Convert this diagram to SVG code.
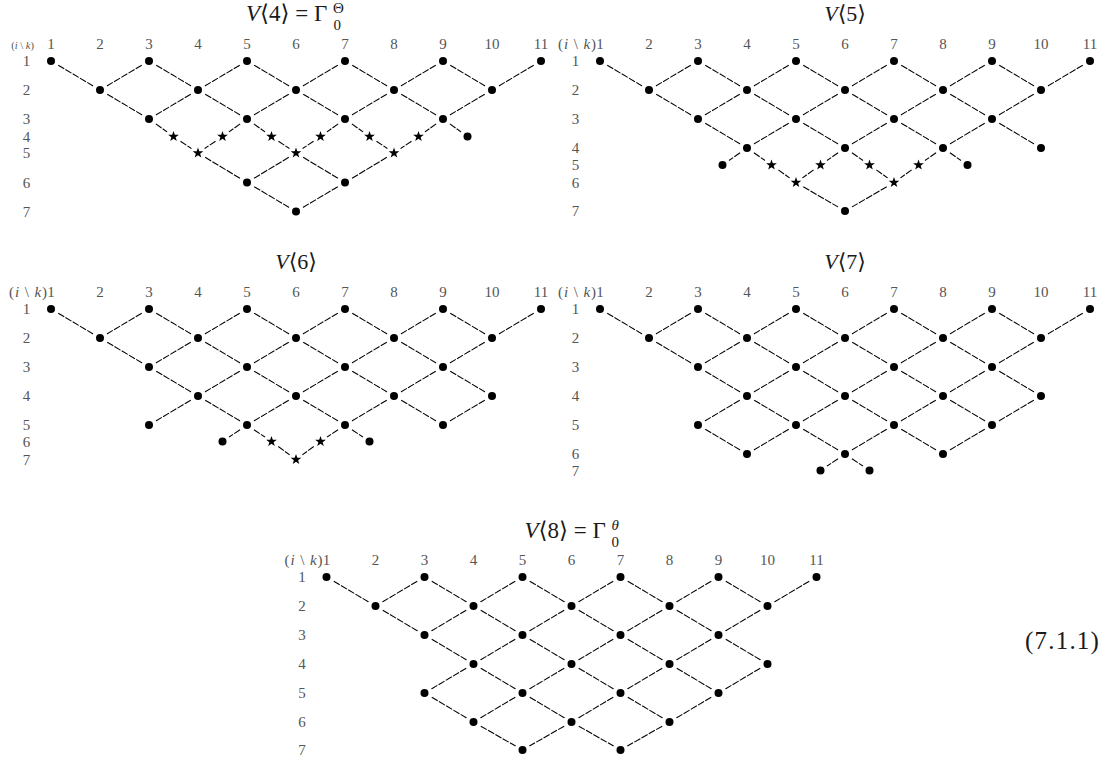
<svg xmlns="http://www.w3.org/2000/svg" width="1107" height="763" viewBox="0 0 1107 763">
<style>
text{font-family:"Liberation Serif","DejaVu Serif",serif}
.t{font-size:22px;fill:#1a1a1a}
.tb{font-size:23px;fill:#1a1a1a}
.n{font-size:15px;fill:#555;text-anchor:middle}
.h{font-size:15px;fill:#555;text-anchor:end}
.hs{font-size:10.5px;fill:#555;text-anchor:end}
.conn{stroke:#000;stroke-width:1.1;stroke-dasharray:7 1.4;fill:none}
</style>
<defs>
<g id="D"><circle r="8" fill="#fff"/><circle r="4" fill="#000"/></g>
<g id="S"><circle r="8" fill="#fff"/><path d="M0,-5.6L1.31,-1.8L5.33,-1.73L2.13,0.69L3.29,4.53L0,2.24L-3.29,4.53L-2.13,0.69L-5.33,-1.73L-1.31,-1.8Z" fill="#000"/></g>
<g id="E13">
<line x1="0" y1="0" x2="49" y2="29"/><line x1="98" y1="0" x2="49" y2="29"/><line x1="98" y1="0" x2="147" y2="29"/><line x1="196" y1="0" x2="147" y2="29"/><line x1="196" y1="0" x2="245" y2="29"/><line x1="294" y1="0" x2="245" y2="29"/><line x1="294" y1="0" x2="343" y2="29"/><line x1="392" y1="0" x2="343" y2="29"/><line x1="392" y1="0" x2="441" y2="29"/><line x1="490" y1="0" x2="441" y2="29"/>
<line x1="49" y1="29" x2="98" y2="58"/><line x1="147" y1="29" x2="98" y2="58"/><line x1="147" y1="29" x2="196" y2="58"/><line x1="245" y1="29" x2="196" y2="58"/><line x1="245" y1="29" x2="294" y2="58"/><line x1="343" y1="29" x2="294" y2="58"/><line x1="343" y1="29" x2="392" y2="58"/><line x1="441" y1="29" x2="392" y2="58"/>
</g>
<g id="E34">
<line x1="98" y1="58" x2="147" y2="87"/><line x1="196" y1="58" x2="147" y2="87"/><line x1="196" y1="58" x2="245" y2="87"/><line x1="294" y1="58" x2="245" y2="87"/><line x1="294" y1="58" x2="343" y2="87"/><line x1="392" y1="58" x2="343" y2="87"/><line x1="392" y1="58" x2="441" y2="87"/>
</g>
<g id="E45">
<line x1="147" y1="87" x2="98" y2="116"/><line x1="147" y1="87" x2="196" y2="116"/><line x1="245" y1="87" x2="196" y2="116"/><line x1="245" y1="87" x2="294" y2="116"/><line x1="343" y1="87" x2="294" y2="116"/><line x1="343" y1="87" x2="392" y2="116"/><line x1="441" y1="87" x2="392" y2="116"/>
</g>
<g id="E56">
<line x1="98" y1="116" x2="147" y2="145"/><line x1="196" y1="116" x2="147" y2="145"/><line x1="196" y1="116" x2="245" y2="145"/><line x1="294" y1="116" x2="245" y2="145"/><line x1="294" y1="116" x2="343" y2="145"/><line x1="392" y1="116" x2="343" y2="145"/>
</g>
</defs>
<rect width="1107" height="763" fill="#fff"/>

<g id="connectors" class="conn">
<g id="conn-v4" transform="translate(51,61)">
<use href="#E13"/>
<line x1="98" y1="58" x2="122.5" y2="75.5"/><line x1="196" y1="58" x2="171.5" y2="75.5"/><line x1="196" y1="58" x2="220.5" y2="75.5"/><line x1="294" y1="58" x2="269.5" y2="75.5"/><line x1="294" y1="58" x2="318.5" y2="75.5"/><line x1="392" y1="58" x2="367.5" y2="75.5"/><line x1="392" y1="58" x2="416.5" y2="75.5"/>
<line x1="122.5" y1="75.5" x2="147" y2="92"/><line x1="171.5" y1="75.5" x2="147" y2="92"/><line x1="220.5" y1="75.5" x2="245" y2="92"/><line x1="269.5" y1="75.5" x2="245" y2="92"/><line x1="318.5" y1="75.5" x2="343" y2="92"/><line x1="367.5" y1="75.5" x2="343" y2="92"/>
<line x1="147" y1="92" x2="196" y2="121.5"/><line x1="245" y1="92" x2="196" y2="121.5"/><line x1="245" y1="92" x2="294" y2="121.5"/><line x1="343" y1="92" x2="294" y2="121.5"/>
<line x1="196" y1="121.5" x2="245" y2="150.5"/><line x1="294" y1="121.5" x2="245" y2="150.5"/>
</g>
<g id="conn-v5" transform="translate(600,61)">
<use href="#E13"/><use href="#E34"/>
<line x1="147" y1="87" x2="122.5" y2="104"/><line x1="147" y1="87" x2="171.5" y2="104"/><line x1="245" y1="87" x2="220.5" y2="104"/><line x1="245" y1="87" x2="269.5" y2="104"/><line x1="343" y1="87" x2="318.5" y2="104"/><line x1="343" y1="87" x2="367.5" y2="104"/>
<line x1="171.5" y1="104" x2="196" y2="121.5"/><line x1="220.5" y1="104" x2="196" y2="121.5"/><line x1="269.5" y1="104" x2="294" y2="121.5"/><line x1="318.5" y1="104" x2="294" y2="121.5"/>
<line x1="196" y1="121.5" x2="245" y2="150"/><line x1="294" y1="121.5" x2="245" y2="150"/>
</g>
<g id="conn-v6" transform="translate(51,309)">
<use href="#E13"/><use href="#E34"/><use href="#E45"/>
<line x1="196" y1="116" x2="171.5" y2="132.5"/><line x1="196" y1="116" x2="220.5" y2="132.5"/><line x1="294" y1="116" x2="269.5" y2="132.5"/><line x1="294" y1="116" x2="318.5" y2="132.5"/>
<line x1="220.5" y1="132.5" x2="245" y2="150.5"/><line x1="269.5" y1="132.5" x2="245" y2="150.5"/>
</g>
<g id="conn-v7" transform="translate(600,309)">
<use href="#E13"/><use href="#E34"/><use href="#E45"/><use href="#E56"/>
<line x1="245" y1="145" x2="220.5" y2="161.5"/><line x1="245" y1="145" x2="269.5" y2="161.5"/>
</g>
<g id="conn-v8" transform="translate(326.5,577)">
<use href="#E13"/><use href="#E34"/><use href="#E45"/><use href="#E56"/>
<line x1="147" y1="145" x2="196" y2="173"/><line x1="245" y1="145" x2="196" y2="173"/><line x1="245" y1="145" x2="294" y2="173"/><line x1="343" y1="145" x2="294" y2="173"/>
</g>
</g>

<!-- Panel V<4> -->
<g id="panel-v4" transform="translate(51,61)">
<text class="tb" y="-40"><tspan x="195" font-style="italic">V</tspan>⟨4⟩ = Γ<tspan x="282" y="-48" font-size="15">Θ</tspan><tspan x="282.5" y="-31" font-size="15">0</tspan></text>
<text class="hs" x="-17" y="-12.5">(<tspan font-style="italic">i</tspan> \ <tspan font-style="italic">k</tspan>)</text>
<text class="n"><tspan x="0" y="-12">1</tspan><tspan x="49" y="-12">2</tspan><tspan x="98" y="-12">3</tspan><tspan x="147" y="-12">4</tspan><tspan x="196" y="-12">5</tspan><tspan x="245" y="-12">6</tspan><tspan x="294" y="-12">7</tspan><tspan x="343" y="-12">8</tspan><tspan x="392" y="-12">9</tspan><tspan x="441" y="-12">10</tspan><tspan x="490" y="-12">11</tspan></text>
<text class="n"><tspan x="-24.5" y="5">1</tspan><tspan x="-24.5" y="34">2</tspan><tspan x="-24.5" y="63">3</tspan><tspan x="-24.5" y="80.5">4</tspan><tspan x="-24.5" y="97">5</tspan><tspan x="-24.5" y="126.5">6</tspan><tspan x="-24.5" y="155.5">7</tspan></text>
<g id="v4-1-1"><use href="#D" x="0" y="0"/></g>
<g id="v4-1-3"><use href="#D" x="98" y="0"/></g>
<g id="v4-1-5"><use href="#D" x="196" y="0"/></g>
<g id="v4-1-7"><use href="#D" x="294" y="0"/></g>
<g id="v4-1-9"><use href="#D" x="392" y="0"/></g>
<g id="v4-1-11"><use href="#D" x="490" y="0"/></g>
<g id="v4-2-2"><use href="#D" x="49" y="29"/></g>
<g id="v4-2-4"><use href="#D" x="147" y="29"/></g>
<g id="v4-2-6"><use href="#D" x="245" y="29"/></g>
<g id="v4-2-8"><use href="#D" x="343" y="29"/></g>
<g id="v4-2-10"><use href="#D" x="441" y="29"/></g>
<g id="v4-3-3"><use href="#D" x="98" y="58"/></g>
<g id="v4-3-5"><use href="#D" x="196" y="58"/></g>
<g id="v4-3-7"><use href="#D" x="294" y="58"/></g>
<g id="v4-3-9"><use href="#D" x="392" y="58"/></g>
<g id="v4-4-3.5"><use href="#S" x="122.5" y="75.5"/></g>
<g id="v4-4-4.5"><use href="#S" x="171.5" y="75.5"/></g>
<g id="v4-4-5.5"><use href="#S" x="220.5" y="75.5"/></g>
<g id="v4-4-6.5"><use href="#S" x="269.5" y="75.5"/></g>
<g id="v4-4-7.5"><use href="#S" x="318.5" y="75.5"/></g>
<g id="v4-4-8.5"><use href="#S" x="367.5" y="75.5"/></g>
<g id="v4-4-9.5"><use href="#D" x="416.5" y="75.5"/></g>
<g id="v4-5-4"><use href="#S" x="147" y="92"/></g>
<g id="v4-5-6"><use href="#S" x="245" y="92"/></g>
<g id="v4-5-8"><use href="#S" x="343" y="92"/></g>
<g id="v4-6-5"><use href="#D" x="196" y="121.5"/></g>
<g id="v4-6-7"><use href="#D" x="294" y="121.5"/></g>
<g id="v4-7-6"><use href="#D" x="245" y="150.5"/></g>
</g>

<!-- Panel V<5> -->
<g id="panel-v5" transform="translate(600,61)">
<text class="t" x="245" y="-40" text-anchor="middle"><tspan font-style="italic">V</tspan>⟨5⟩</text>
<text class="h" x="-4" y="-12" textLength="38" lengthAdjust="spacing">(<tspan font-style="italic">i</tspan> \ <tspan font-style="italic">k</tspan>)</text>
<text class="n"><tspan x="0" y="-12">1</tspan><tspan x="49" y="-12">2</tspan><tspan x="98" y="-12">3</tspan><tspan x="147" y="-12">4</tspan><tspan x="196" y="-12">5</tspan><tspan x="245" y="-12">6</tspan><tspan x="294" y="-12">7</tspan><tspan x="343" y="-12">8</tspan><tspan x="392" y="-12">9</tspan><tspan x="441" y="-12">10</tspan><tspan x="490" y="-12">11</tspan></text>
<text class="n"><tspan x="-24.5" y="5">1</tspan><tspan x="-24.5" y="34">2</tspan><tspan x="-24.5" y="63">3</tspan><tspan x="-24.5" y="92">4</tspan><tspan x="-24.5" y="109">5</tspan><tspan x="-24.5" y="126.5">6</tspan><tspan x="-24.5" y="155">7</tspan></text>
<g id="v5-1-1"><use href="#D" x="0" y="0"/></g>
<g id="v5-1-3"><use href="#D" x="98" y="0"/></g>
<g id="v5-1-5"><use href="#D" x="196" y="0"/></g>
<g id="v5-1-7"><use href="#D" x="294" y="0"/></g>
<g id="v5-1-9"><use href="#D" x="392" y="0"/></g>
<g id="v5-1-11"><use href="#D" x="490" y="0"/></g>
<g id="v5-2-2"><use href="#D" x="49" y="29"/></g>
<g id="v5-2-4"><use href="#D" x="147" y="29"/></g>
<g id="v5-2-6"><use href="#D" x="245" y="29"/></g>
<g id="v5-2-8"><use href="#D" x="343" y="29"/></g>
<g id="v5-2-10"><use href="#D" x="441" y="29"/></g>
<g id="v5-3-3"><use href="#D" x="98" y="58"/></g>
<g id="v5-3-5"><use href="#D" x="196" y="58"/></g>
<g id="v5-3-7"><use href="#D" x="294" y="58"/></g>
<g id="v5-3-9"><use href="#D" x="392" y="58"/></g>
<g id="v5-4-4"><use href="#D" x="147" y="87"/></g>
<g id="v5-4-6"><use href="#D" x="245" y="87"/></g>
<g id="v5-4-8"><use href="#D" x="343" y="87"/></g>
<g id="v5-4-10"><use href="#D" x="441" y="87"/></g>
<g id="v5-5-3.5"><use href="#D" x="122.5" y="104"/></g>
<g id="v5-5-4.5"><use href="#S" x="171.5" y="104"/></g>
<g id="v5-5-5.5"><use href="#S" x="220.5" y="104"/></g>
<g id="v5-5-6.5"><use href="#S" x="269.5" y="104"/></g>
<g id="v5-5-7.5"><use href="#S" x="318.5" y="104"/></g>
<g id="v5-5-8.5"><use href="#D" x="367.5" y="104"/></g>
<g id="v5-6-5"><use href="#S" x="196" y="121.5"/></g>
<g id="v5-6-7"><use href="#S" x="294" y="121.5"/></g>
<g id="v5-7-6"><use href="#D" x="245" y="150"/></g>
</g>

<!-- Panel V<6> -->
<g id="panel-v6" transform="translate(51,309)">
<text class="t" x="245" y="-40" text-anchor="middle"><tspan font-style="italic">V</tspan>⟨6⟩</text>
<text class="h" x="-4" y="-12" textLength="38" lengthAdjust="spacing">(<tspan font-style="italic">i</tspan> \ <tspan font-style="italic">k</tspan>)</text>
<text class="n"><tspan x="0" y="-12">1</tspan><tspan x="49" y="-12">2</tspan><tspan x="98" y="-12">3</tspan><tspan x="147" y="-12">4</tspan><tspan x="196" y="-12">5</tspan><tspan x="245" y="-12">6</tspan><tspan x="294" y="-12">7</tspan><tspan x="343" y="-12">8</tspan><tspan x="392" y="-12">9</tspan><tspan x="441" y="-12">10</tspan><tspan x="490" y="-12">11</tspan></text>
<text class="n"><tspan x="-24.5" y="5">1</tspan><tspan x="-24.5" y="34">2</tspan><tspan x="-24.5" y="63">3</tspan><tspan x="-24.5" y="92">4</tspan><tspan x="-24.5" y="121">5</tspan><tspan x="-24.5" y="137.5">6</tspan><tspan x="-24.5" y="155.5">7</tspan></text>
<g id="v6-1-1"><use href="#D" x="0" y="0"/></g>
<g id="v6-1-3"><use href="#D" x="98" y="0"/></g>
<g id="v6-1-5"><use href="#D" x="196" y="0"/></g>
<g id="v6-1-7"><use href="#D" x="294" y="0"/></g>
<g id="v6-1-9"><use href="#D" x="392" y="0"/></g>
<g id="v6-1-11"><use href="#D" x="490" y="0"/></g>
<g id="v6-2-2"><use href="#D" x="49" y="29"/></g>
<g id="v6-2-4"><use href="#D" x="147" y="29"/></g>
<g id="v6-2-6"><use href="#D" x="245" y="29"/></g>
<g id="v6-2-8"><use href="#D" x="343" y="29"/></g>
<g id="v6-2-10"><use href="#D" x="441" y="29"/></g>
<g id="v6-3-3"><use href="#D" x="98" y="58"/></g>
<g id="v6-3-5"><use href="#D" x="196" y="58"/></g>
<g id="v6-3-7"><use href="#D" x="294" y="58"/></g>
<g id="v6-3-9"><use href="#D" x="392" y="58"/></g>
<g id="v6-4-4"><use href="#D" x="147" y="87"/></g>
<g id="v6-4-6"><use href="#D" x="245" y="87"/></g>
<g id="v6-4-8"><use href="#D" x="343" y="87"/></g>
<g id="v6-4-10"><use href="#D" x="441" y="87"/></g>
<g id="v6-5-3"><use href="#D" x="98" y="116"/></g>
<g id="v6-5-5"><use href="#D" x="196" y="116"/></g>
<g id="v6-5-7"><use href="#D" x="294" y="116"/></g>
<g id="v6-5-9"><use href="#D" x="392" y="116"/></g>
<g id="v6-6-4.5"><use href="#D" x="171.5" y="132.5"/></g>
<g id="v6-6-5.5"><use href="#S" x="220.5" y="132.5"/></g>
<g id="v6-6-6.5"><use href="#S" x="269.5" y="132.5"/></g>
<g id="v6-6-7.5"><use href="#D" x="318.5" y="132.5"/></g>
<g id="v6-7-6"><use href="#S" x="245" y="150.5"/></g>
</g>

<!-- Panel V<7> -->
<g id="panel-v7" transform="translate(600,309)">
<text class="t" x="245" y="-40" text-anchor="middle"><tspan font-style="italic">V</tspan>⟨7⟩</text>
<text class="h" x="-4" y="-12" textLength="38" lengthAdjust="spacing">(<tspan font-style="italic">i</tspan> \ <tspan font-style="italic">k</tspan>)</text>
<text class="n"><tspan x="0" y="-12">1</tspan><tspan x="49" y="-12">2</tspan><tspan x="98" y="-12">3</tspan><tspan x="147" y="-12">4</tspan><tspan x="196" y="-12">5</tspan><tspan x="245" y="-12">6</tspan><tspan x="294" y="-12">7</tspan><tspan x="343" y="-12">8</tspan><tspan x="392" y="-12">9</tspan><tspan x="441" y="-12">10</tspan><tspan x="490" y="-12">11</tspan></text>
<text class="n"><tspan x="-24.5" y="5">1</tspan><tspan x="-24.5" y="34">2</tspan><tspan x="-24.5" y="63">3</tspan><tspan x="-24.5" y="92">4</tspan><tspan x="-24.5" y="121">5</tspan><tspan x="-24.5" y="150">6</tspan><tspan x="-24.5" y="166.5">7</tspan></text>
<g id="v7-1-1"><use href="#D" x="0" y="0"/></g>
<g id="v7-1-3"><use href="#D" x="98" y="0"/></g>
<g id="v7-1-5"><use href="#D" x="196" y="0"/></g>
<g id="v7-1-7"><use href="#D" x="294" y="0"/></g>
<g id="v7-1-9"><use href="#D" x="392" y="0"/></g>
<g id="v7-1-11"><use href="#D" x="490" y="0"/></g>
<g id="v7-2-2"><use href="#D" x="49" y="29"/></g>
<g id="v7-2-4"><use href="#D" x="147" y="29"/></g>
<g id="v7-2-6"><use href="#D" x="245" y="29"/></g>
<g id="v7-2-8"><use href="#D" x="343" y="29"/></g>
<g id="v7-2-10"><use href="#D" x="441" y="29"/></g>
<g id="v7-3-3"><use href="#D" x="98" y="58"/></g>
<g id="v7-3-5"><use href="#D" x="196" y="58"/></g>
<g id="v7-3-7"><use href="#D" x="294" y="58"/></g>
<g id="v7-3-9"><use href="#D" x="392" y="58"/></g>
<g id="v7-4-4"><use href="#D" x="147" y="87"/></g>
<g id="v7-4-6"><use href="#D" x="245" y="87"/></g>
<g id="v7-4-8"><use href="#D" x="343" y="87"/></g>
<g id="v7-4-10"><use href="#D" x="441" y="87"/></g>
<g id="v7-5-3"><use href="#D" x="98" y="116"/></g>
<g id="v7-5-5"><use href="#D" x="196" y="116"/></g>
<g id="v7-5-7"><use href="#D" x="294" y="116"/></g>
<g id="v7-5-9"><use href="#D" x="392" y="116"/></g>
<g id="v7-6-4"><use href="#D" x="147" y="145"/></g>
<g id="v7-6-6"><use href="#D" x="245" y="145"/></g>
<g id="v7-6-8"><use href="#D" x="343" y="145"/></g>
<g id="v7-7-5.5"><use href="#D" x="220.5" y="161.5"/></g>
<g id="v7-7-6.5"><use href="#D" x="269.5" y="161.5"/></g>
</g>

<!-- Panel V<8> -->
<g id="panel-v8" transform="translate(326.5,577)">
<text class="tb" y="-39"><tspan x="198" font-style="italic">V</tspan>⟨8⟩ = Γ<tspan x="285" y="-47" font-size="15" font-style="italic">θ</tspan><tspan x="285" y="-30" font-size="15">0</tspan></text>
<text class="h" x="-4" y="-12" textLength="38" lengthAdjust="spacing">(<tspan font-style="italic">i</tspan> \ <tspan font-style="italic">k</tspan>)</text>
<text class="n"><tspan x="0" y="-12">1</tspan><tspan x="49" y="-12">2</tspan><tspan x="98" y="-12">3</tspan><tspan x="147" y="-12">4</tspan><tspan x="196" y="-12">5</tspan><tspan x="245" y="-12">6</tspan><tspan x="294" y="-12">7</tspan><tspan x="343" y="-12">8</tspan><tspan x="392" y="-12">9</tspan><tspan x="441" y="-12">10</tspan><tspan x="490" y="-12">11</tspan></text>
<text class="n"><tspan x="-24.5" y="5">1</tspan><tspan x="-24.5" y="34">2</tspan><tspan x="-24.5" y="63">3</tspan><tspan x="-24.5" y="92">4</tspan><tspan x="-24.5" y="121">5</tspan><tspan x="-24.5" y="150">6</tspan><tspan x="-24.5" y="178">7</tspan></text>
<g id="v8-1-1"><use href="#D" x="0" y="0"/></g>
<g id="v8-1-3"><use href="#D" x="98" y="0"/></g>
<g id="v8-1-5"><use href="#D" x="196" y="0"/></g>
<g id="v8-1-7"><use href="#D" x="294" y="0"/></g>
<g id="v8-1-9"><use href="#D" x="392" y="0"/></g>
<g id="v8-1-11"><use href="#D" x="490" y="0"/></g>
<g id="v8-2-2"><use href="#D" x="49" y="29"/></g>
<g id="v8-2-4"><use href="#D" x="147" y="29"/></g>
<g id="v8-2-6"><use href="#D" x="245" y="29"/></g>
<g id="v8-2-8"><use href="#D" x="343" y="29"/></g>
<g id="v8-2-10"><use href="#D" x="441" y="29"/></g>
<g id="v8-3-3"><use href="#D" x="98" y="58"/></g>
<g id="v8-3-5"><use href="#D" x="196" y="58"/></g>
<g id="v8-3-7"><use href="#D" x="294" y="58"/></g>
<g id="v8-3-9"><use href="#D" x="392" y="58"/></g>
<g id="v8-4-4"><use href="#D" x="147" y="87"/></g>
<g id="v8-4-6"><use href="#D" x="245" y="87"/></g>
<g id="v8-4-8"><use href="#D" x="343" y="87"/></g>
<g id="v8-4-10"><use href="#D" x="441" y="87"/></g>
<g id="v8-5-3"><use href="#D" x="98" y="116"/></g>
<g id="v8-5-5"><use href="#D" x="196" y="116"/></g>
<g id="v8-5-7"><use href="#D" x="294" y="116"/></g>
<g id="v8-5-9"><use href="#D" x="392" y="116"/></g>
<g id="v8-6-4"><use href="#D" x="147" y="145"/></g>
<g id="v8-6-6"><use href="#D" x="245" y="145"/></g>
<g id="v8-6-8"><use href="#D" x="343" y="145"/></g>
<g id="v8-7-5"><use href="#D" x="196" y="173"/></g>
<g id="v8-7-7"><use href="#D" x="294" y="173"/></g>
</g>

<text id="eqno" x="1025" y="649" letter-spacing="1.2" style="font-size:25px;fill:#1a1a1a">(7.1.1)</text>
</svg>
